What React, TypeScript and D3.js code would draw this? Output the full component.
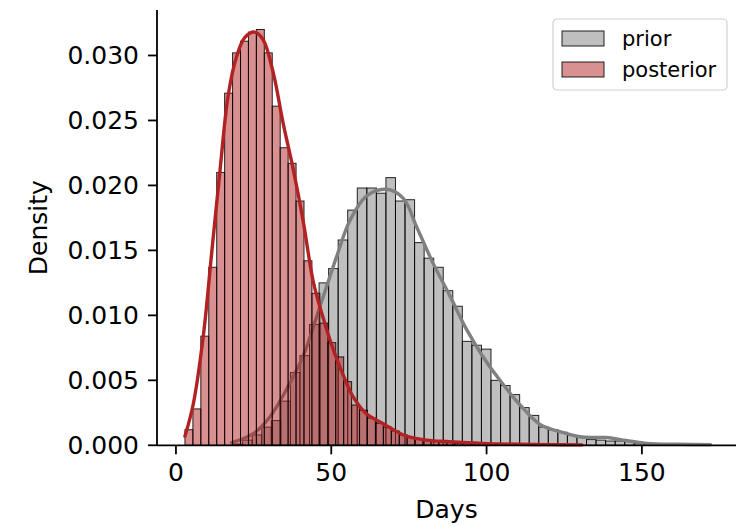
import React from "react";
import * as d3 from "d3";

// histogram bins (days)
const priorStart = 18.4;
const priorWidth = 3.075;
const priorDensity = [
  0.0001, 0.0004, 0.0008, 0.0014, 0.0019, 0.0034, 0.0056, 0.0069, 0.0093, 0.0125,
  0.0136, 0.0158, 0.0181, 0.0198, 0.0198, 0.0194, 0.0206, 0.0188, 0.0189, 0.0156,
  0.0144, 0.0137, 0.0119, 0.0107, 0.008, 0.0077, 0.0074, 0.005, 0.0046, 0.0039,
  0.0029, 0.0023, 0.0014, 0.0012, 0.001, 0.00075, 0.0006, 0.00044, 0.0004, 0.00033,
  0.00033, 0.00028, 0.00015, 0.0001, 0.00008, 0.00006, 0.00005, 0.00004, 0.00003, 0.00002,
];

const postStart = 2.9;
const postWidth = 2.555;
const postDensity = [
  0.0012, 0.0028, 0.0084, 0.0137, 0.021, 0.0271, 0.0302, 0.0311, 0.0318, 0.032,
  0.0302, 0.0261, 0.0229, 0.0217, 0.0188, 0.0142, 0.0117, 0.0094, 0.0079, 0.0068,
  0.0049, 0.0031, 0.0027, 0.0021, 0.0017, 0.0014, 0.0011, 0.0008, 0.0006, 0.0005,
  0.0004, 0.0003, 0.00025, 0.0002, 0.00015, 0.00015, 0.0001, 0.0001, 0.00008, 0.00006,
  0.00005, 0.00004, 0.00004, 0.00003, 0.00002, 0.00002, 0.00001, 0.00001, 0, 0.00001,
];

// kde curves [day, density]
const priorKde: [number, number][] = [
  [17.9, 0.0002], [24.9, 0.0009], [30.3, 0.0022], [35.6, 0.0043], [41, 0.0069],
  [46.4, 0.0107], [51.7, 0.0145], [56, 0.0173], [61.4, 0.0192], [67.8, 0.0197],
  [73.2, 0.019], [77.5, 0.0168], [82.8, 0.014], [88.2, 0.0115], [93.6, 0.0089],
  [98.9, 0.0068], [104.3, 0.005], [110.8, 0.0031], [117.2, 0.0016], [123.6, 0.00105],
  [130, 0.00066], [134.4, 0.0006], [138.7, 0.0006], [144, 0.0004], [151.5, 0.00015],
  [162, 0.00008], [172.1, 0.00005],
];

const postKde: [number, number][] = [
  [2.9, 0.0007], [5.6, 0.0032], [8.8, 0.0084], [11.5, 0.0148], [14.2, 0.0212],
  [16.8, 0.0269], [19.5, 0.0299], [22.2, 0.0314], [25.4, 0.0318], [28.1, 0.0312],
  [31.3, 0.0287], [34.5, 0.0248], [37.8, 0.0212], [41, 0.0172], [44.2, 0.0126],
  [47.4, 0.0098], [50.6, 0.0074], [53.5, 0.0056], [57.1, 0.0037], [61.4, 0.0024],
  [65.7, 0.0018], [70, 0.0012], [74.2, 0.0007], [80.7, 0.0004], [88, 0.00028],
  [98.8, 0.00015], [110, 0.00008], [120, 0.00005], [130.7, 0.00003],
];

const xTicks = [0, 50, 100, 150];
const yTicks = [0, 0.005, 0.01, 0.015, 0.02, 0.025, 0.03];

const width = 741;
const height = 527;
const margin = { top: 10, right: 5, bottom: 82, left: 157 };

const App = () => {
  const x = d3
    .scaleLinear()
    .domain([-6.1, 180.3])
    .range([margin.left, width - margin.right]);
  const y = d3
    .scaleLinear()
    .domain([0, 0.0335])
    .range([height - margin.bottom + 0.3, margin.top]);

  const line = d3
    .line<[number, number]>()
    .curve(d3.curveCatmullRom)
    .x((d) => x(d[0]))
    .y((d) => y(d[1]));

  const series = [
    { name: "prior", start: priorStart, w: priorWidth, values: priorDensity, fill: "#808080", stroke: "#808080", kde: priorKde },
    { name: "posterior", start: postStart, w: postWidth, values: postDensity, fill: "#b22222", stroke: "#b22222", kde: postKde },
  ];

  const font = "DejaVu Sans, sans-serif";

  return (
    <svg
      width={width}
      height={height}
      style={{ position: "absolute", left: 0, top: 0, background: "#fff" }}
      fontFamily={font}
    >
      {series.map((s) => (
        <g key={s.name}>
          {s.values.map((v, i) => {
            const x0 = x(s.start + i * s.w);
            const x1 = x(s.start + (i + 1) * s.w);
            return (
              <rect
                key={i}
                x={x0}
                y={y(v)}
                width={x1 - x0}
                height={y(0) - y(v)}
                fill={s.fill}
                fillOpacity={0.5}
                stroke="#000"
                strokeOpacity={0.85}
                strokeWidth={1}
              />
            );
          })}
          <path d={line(s.kde) || ""} fill="none" stroke={s.stroke} strokeWidth={3.4} strokeLinecap="round" />
        </g>
      ))}

      {/* axes */}
      <line x1={margin.left} x2={margin.left} y1={margin.top} y2={y(0)} stroke="#000" strokeWidth={1.8} />
      <line x1={margin.left} x2={width - margin.right} y1={y(0)} y2={y(0)} stroke="#000" strokeWidth={1.8} />

      {yTicks.map((t) => (
        <g key={t}>
          <line x1={margin.left - 9} x2={margin.left} y1={y(t)} y2={y(t)} stroke="#000" strokeWidth={1.8} />
          <text x={margin.left - 18} y={y(t)} dy="0.36em" textAnchor="end" fontSize={25} fill="#000">
            {d3.format(".3f")(t)}
          </text>
        </g>
      ))}
      {xTicks.map((t) => (
        <g key={t}>
          <line x1={x(t)} x2={x(t)} y1={y(0)} y2={y(0) + 9} stroke="#000" strokeWidth={1.8} />
          <text x={x(t)} y={y(0) + 36} textAnchor="middle" fontSize={25} fill="#000">
            {t}
          </text>
        </g>
      ))}

      <text x={(margin.left + width - margin.right) / 2} y={518} textAnchor="middle" fontSize={25} fill="#000">
        Days
      </text>
      <text
        transform={`translate(47, ${(margin.top + y(0)) / 2}) rotate(-90)`}
        textAnchor="middle"
        fontSize={25}
        fill="#000"
      >
        Density
      </text>

      {/* legend */}
      <g transform="translate(553, 19)">
        <rect x={0} y={0} width={174} height={71} rx={4} fill="#fff" fillOpacity={0.8} stroke="#d0d0d0" strokeWidth={1.2} />
        {series.map((s, i) => (
          <g key={s.name} transform={`translate(0, ${i * 31})`}>
            <rect x={9} y={12} width={42} height={15} fill={s.fill} fillOpacity={0.5} stroke="#000" strokeOpacity={0.85} strokeWidth={1} />
            <text x={69} y={19} dy="0.36em" fontSize={21} fill="#000">
              {s.name}
            </text>
          </g>
        ))}
      </g>
    </svg>
  );
};

export default App;
